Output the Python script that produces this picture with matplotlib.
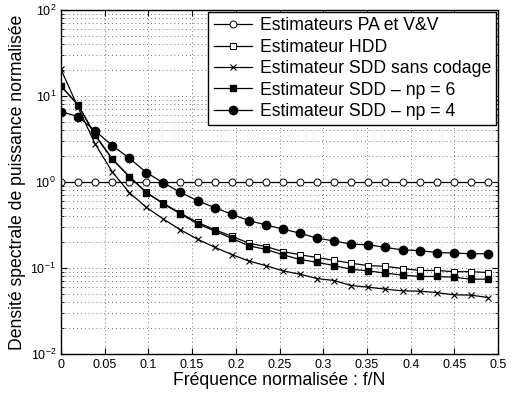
import matplotlib
matplotlib.use("Agg")
import matplotlib.pyplot as plt
import numpy as np
from matplotlib.ticker import LogLocator

plt.rcParams["font.family"] = ["Liberation Sans", "DejaVu Sans"]

# normalised frequency, 26 points, step 5/256
freq = np.arange(26) * 5 / 256

pa_vv = [1.0] * 26
hdd = [13.1, 7.9, 3.5, 1.86, 1.16, 0.76, 0.565, 0.435, 0.34, 0.28,
       0.235, 0.195, 0.178, 0.156, 0.143, 0.133, 0.123, 0.114, 0.107, 0.105,
       0.099, 0.094, 0.094, 0.091, 0.091, 0.089]
sdd_raw = [20.5, 7.4, 2.78, 1.32, 0.755, 0.51, 0.371, 0.279, 0.217, 0.175,
           0.144, 0.121, 0.107, 0.093, 0.085, 0.0757, 0.0718, 0.0628, 0.0601, 0.057,
           0.0545, 0.054, 0.052, 0.049, 0.0486, 0.0456]
sdd_np6 = [13.1, 7.88, 3.53, 1.86, 1.16, 0.755, 0.558, 0.427, 0.327, 0.271,
           0.222, 0.182, 0.165, 0.143, 0.126, 0.117, 0.107, 0.097, 0.093, 0.0875,
           0.083, 0.080, 0.080, 0.0785, 0.0745, 0.0745]
sdd_np4 = [6.59, 5.77, 3.94, 2.66, 1.90, 1.29, 0.98, 0.759, 0.607, 0.505,
           0.423, 0.357, 0.318, 0.284, 0.255, 0.223, 0.207, 0.190, 0.187, 0.174,
           0.163, 0.160, 0.152, 0.150, 0.147, 0.147]

labels = ["Estimateurs PA et V&V", "Estimateur HDD", "Estimateur SDD sans codage",
          "Estimateur SDD – np = 6", "Estimateur SDD – np = 4"]
xticklabels = ["0", "0.05", "0.1", "0.15", "0.2", "0.25", "0.3", "0.35", "0.4", "0.45", "0.5"]

fig = plt.figure(figsize=(5.12, 3.98), dpi=100)
ax = fig.add_axes([0.119, 0.110, 0.854, 0.865])

lw = 0.9
ax.semilogy(freq, pa_vv, "-o", color="black", mfc="white", ms=5, lw=lw, mew=0.7, label=labels[0])
ax.semilogy(freq, hdd, "-s", color="black", mfc="white", ms=4.5, lw=lw, mew=0.7, label=labels[1])
ax.semilogy(freq, sdd_raw, "-x", color="black", ms=5, lw=lw, mew=0.8, label=labels[2])
ax.semilogy(freq, sdd_np6, "-s", color="black", mfc="black", ms=5, lw=lw, label=labels[3])
ax.semilogy(freq, sdd_np4, "-o", color="black", mfc="black", ms=6, lw=lw, label=labels[4])

ax.set_xlim(0, 0.5)
ax.set_ylim(1e-2, 1e2)
ax.set_xticks(np.arange(0, 0.501, 0.05))
ax.set_xticklabels(xticklabels)
ax.yaxis.set_major_locator(LogLocator(base=10, numticks=10))
ax.yaxis.set_minor_locator(LogLocator(base=10, subs=np.arange(2, 10), numticks=20))

ax.tick_params(which="both", direction="in", top=True, right=True, labelsize=9)
ax.tick_params(which="major", length=4)
ax.tick_params(which="minor", length=2)
ax.grid(True, which="major", linestyle=(0, (1, 3)), color="0.45", linewidth=0.7)
ax.grid(True, which="minor", axis="y", linestyle=(0, (1, 3)), color="0.45", linewidth=0.7)
for s in ax.spines.values():
    s.set_linewidth(1.0)

ax.set_xlabel("Fréquence normalisée : f/N", fontsize=12.7, labelpad=1)
ax.set_ylabel("Densité spectrale de puissance normalisée", fontsize=12.7, labelpad=3)

leg = ax.legend(loc="upper right", numpoints=1, fontsize=12.7, frameon=True,
                fancybox=False, framealpha=1, edgecolor="black",
                borderaxespad=0.12, handlelength=2.2, handletextpad=0.4,
                labelspacing=0.25, borderpad=0.3)
leg.get_frame().set_linewidth(1.0)

fig.savefig("out.png", dpi=100)
